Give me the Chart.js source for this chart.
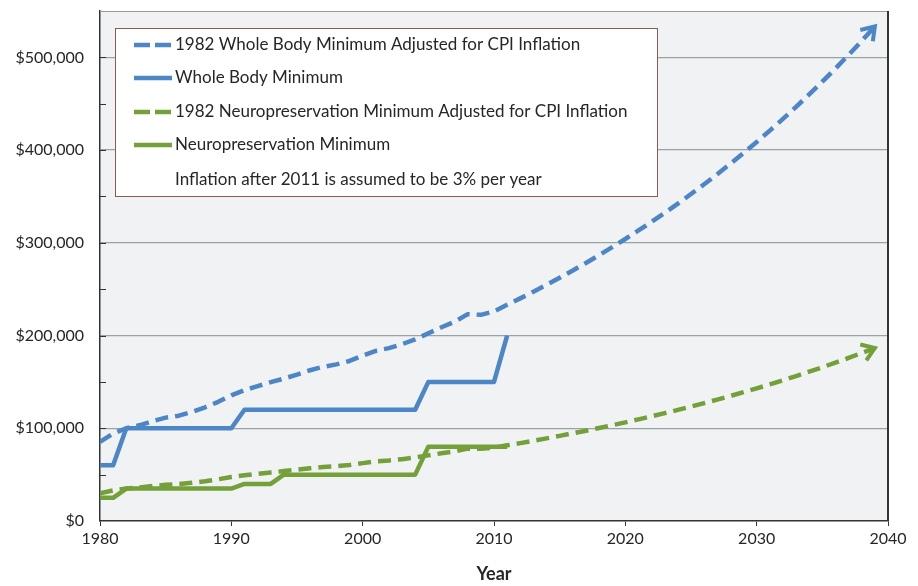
<!DOCTYPE html>
<html>
<head>
<meta charset="utf-8">
<script src="https://cdn.jsdelivr.net/npm/chart.js@4/dist/chart.umd.min.js"></script>
<style>
  body { margin: 0; background: #fff; }
  canvas { display: block; }
</style>
</head>
<body>
<canvas id="chart" width="918" height="586"></canvas>
<script>
// --- data ---
const adjYears = [1980,1981,1982,1983,1984,1985,1986,1987,1988,1989,1990,1991,1992,1993,1994,1995,1996,1997,1998,1999,
  2000,2001,2002,2003,2004,2005,2006,2007,2008,2009,2010,2011,2012,2013,2014,2015,2016,2017,2018,2019,
  2020,2021,2022,2023,2024,2025,2026,2027,2028,2029,2030,2031,2032,2033,2034,2035,2036,2037,2038,2039];
const wholeAdjusted = [85400,94200,100000,103200,107700,111500,113600,117700,122600,128500,135400,141100,145400,149700,153600,157900,162600,166300,168900,172600,
  178400,183500,186400,190700,195800,202400,208900,214800,223100,222300,226000,233100,240100,247300,254700,262400,270200,278300,286700,295300,
  304100,313300,322700,332300,342300,352600,363100,374000,385300,396800,408700,421000,433600,446600,460000,473800,488000,502700,517700,533300];
const neuroAdjusted = [29900,33000,35000,36100,37700,39000,39800,41200,42900,45000,47400,49400,50900,52400,53800,55300,56900,58200,59100,60400,
  62400,64200,65200,66700,68500,70800,73100,75200,78100,77800,79100,81600,84000,86600,89100,91800,94600,97400,100300,103300,
  106400,109600,112900,116300,119800,123400,127100,130900,134800,138900,143000,147300,151700,156300,161000,165800,170800,175900,181200,186600];
const wholeYears = [1980,1981,1982,1990,1991,2004,2005,2010,2011];
const wholeMin = [60000,60000,100000,100000,120000,120000,150000,150000,200000];
const neuroYears = [1980,1981,1982,1990,1991,1993,1994,2004,2005,2011];
const neuroMin = [25000,25000,35000,35000,40000,40000,50000,50000,80000,80000];
const seriesLabels = [
  '1982 Whole Body Minimum Adjusted for CPI Inflation',
  'Whole Body Minimum',
  '1982 Neuropreservation Minimum Adjusted for CPI Inflation',
  'Neuropreservation Minimum'
];
const noteText = 'Inflation after 2011 is assumed to be 3% per year';
const xTicks = [1980,1990,2000,2010,2020,2030,2040];
const yTicks = [0,100000,200000,300000,400000,500000];

const BLUE = '#4d86c6';
const GREEN = '#74a03a';
const FONT = 'Lato, "Open Sans", sans-serif';
const TEXT = '#262626';

const pts = (xs, ys) => xs.map((x, i) => ({ x: x, y: ys[i] }));

// plot background + frame
const framePlugin = {
  id: 'frame',
  beforeDraw(chart) {
    const { ctx, chartArea: a } = chart;
    ctx.save();
    ctx.fillStyle = '#f1f2f3';
    ctx.fillRect(a.left, a.top, a.right - a.left, a.bottom - a.top);
    ctx.restore();
  },
  afterDraw(chart) {
    const { ctx, chartArea: a } = chart;
    ctx.save();
    ctx.strokeStyle = '#9a9a9a';
    ctx.lineWidth = 1;
    ctx.beginPath();
    ctx.moveTo(a.left, a.top + 0.5);
    ctx.lineTo(a.right, a.top + 0.5);
    ctx.stroke();
    ctx.strokeStyle = '#333';
    ctx.lineWidth = 2;
    ctx.beginPath();
    ctx.moveTo(a.right, a.top);
    ctx.lineTo(a.right, a.bottom);
    ctx.stroke();
    // small inside ticks on the value axis
    const y = chart.scales.y;
    ctx.lineWidth = 1;
    ctx.strokeStyle = '#333';
    for (let v = 50000; v < 550000; v += 50000) {
      const py = Math.round(y.getPixelForValue(v)) + 0.5;
      ctx.beginPath();
      ctx.moveTo(a.left, py);
      ctx.lineTo(a.left + 6, py);
      ctx.stroke();
    }
    ctx.restore();
  }
};

// boxed legend inside the plot
const legendBox = {
  id: 'legendBox',
  beforeDatasetsDraw(chart) {
    const { ctx } = chart;
    const bx = 115, by = 28, bw = 542, bh = 168;
    ctx.save();
    ctx.fillStyle = '#fff';
    ctx.fillRect(bx, by, bw, bh);
    ctx.strokeStyle = '#8c5a52';
    ctx.lineWidth = 1;
    ctx.strokeRect(bx + 0.5, by + 0.5, bw, bh);
    ctx.font = '17px ' + FONT;
    ctx.fillStyle = TEXT;
    ctx.textBaseline = 'middle';
    const rows = [45, 78, 112, 145, 180];
    chart.data.datasets.forEach((ds, i) => {
      const ry = rows[i];
      ctx.strokeStyle = ds.borderColor;
      ctx.lineWidth = 4.5;
      ctx.setLineDash(ds.borderDash && ds.borderDash.length ? [16, 5] : []);
      ctx.beginPath();
      ctx.moveTo(134, ry);
      ctx.lineTo(172, ry);
      ctx.stroke();
      ctx.setLineDash([]);
      ctx.fillText(ds.label, 175, ry);
    });
    ctx.fillText(noteText, 175, rows[4]);
    ctx.restore();
  }
};

// open arrow heads on the projected lines
const arrowPlugin = {
  id: 'arrows',
  afterDatasetsDraw(chart) {
    const { ctx } = chart;
    chart.data.datasets.forEach((ds, i) => {
      if (!ds.arrow) return;
      const pts = chart.getDatasetMeta(i).data;
      const p1 = pts[pts.length - 2], p2 = pts[pts.length - 1];
      const ang = Math.atan2(p2.y - p1.y, p2.x - p1.x);
      const len = 15;
      ctx.save();
      ctx.strokeStyle = ds.borderColor;
      ctx.lineWidth = 4;
      ctx.lineCap = 'butt';
      ctx.lineJoin = 'miter';
      ctx.beginPath();
      ctx.moveTo(p2.x - len * Math.cos(ang - 0.6), p2.y - len * Math.sin(ang - 0.6));
      ctx.lineTo(p2.x, p2.y);
      ctx.lineTo(p2.x - len * Math.cos(ang + 0.6), p2.y - len * Math.sin(ang + 0.6));
      ctx.stroke();
      ctx.restore();
    });
  }
};

new Chart(document.getElementById('chart'), {
  type: 'line',
  data: {
    datasets: [
      { label: seriesLabels[0], data: pts(adjYears, wholeAdjusted), borderColor: BLUE, borderWidth: 4.5, borderDash: [13, 7], arrow: true },
      { label: seriesLabels[1], data: pts(wholeYears, wholeMin), borderColor: BLUE, borderWidth: 4.5 },
      { label: seriesLabels[2], data: pts(adjYears, neuroAdjusted), borderColor: GREEN, borderWidth: 4.5, borderDash: [13, 7], arrow: true },
      { label: seriesLabels[3], data: pts(neuroYears, neuroMin), borderColor: GREEN, borderWidth: 4.5 }
    ]
  },
  options: {
    responsive: false,
    animation: false,
    devicePixelRatio: 1,
    elements: { point: { radius: 0 }, line: { tension: 0, borderCapStyle: 'butt', borderJoinStyle: 'round' } },
    layout: { padding: { left: 0, right: 30, top: 11, bottom: 0 } },
    plugins: { legend: { display: false }, tooltip: { enabled: false } },
    scales: {
      x: {
        type: 'linear',
        min: 1980,
        max: 2040,
        afterBuildTicks: (s) => { s.ticks = xTicks.map(v => ({ value: v })); },
        afterFit: (s) => { s.height = 65; s.paddingLeft = 0; },
        grid: { drawOnChartArea: false, color: '#333', tickLength: 5 },
        border: { color: '#333', width: 1.5 },
        ticks: { color: TEXT, font: { family: FONT, size: 16 }, padding: 3, callback: (v) => String(v) },
        title: { display: true, text: 'Year', color: TEXT, font: { family: FONT, size: 18, weight: 'bold' }, padding: { top: 0, bottom: 1 } }
      },
      y: {
        min: 0,
        max: 550000,
        afterBuildTicks: (s) => { s.ticks = yTicks.map(v => ({ value: v })); },
        afterFit: (s) => { s.width = 100; s.paddingTop = 0; s.paddingBottom = 0; },
        ticks: {
          color: TEXT,
          padding: 16,
          font: { family: FONT, size: 16 },
          callback: (v) => '$' + v.toLocaleString('en-US')
        },
        grid: {
          drawTicks: false,
          color: (c) => (c.tick && c.tick.value > 0 ? '#9aa3a3' : 'rgba(0,0,0,0)'),
          lineWidth: 1.2
        },
        border: { color: '#333', width: 1.5 }
      }
    }
  },
  plugins: [framePlugin, legendBox, arrowPlugin]
});
</script>
</body>
</html>
